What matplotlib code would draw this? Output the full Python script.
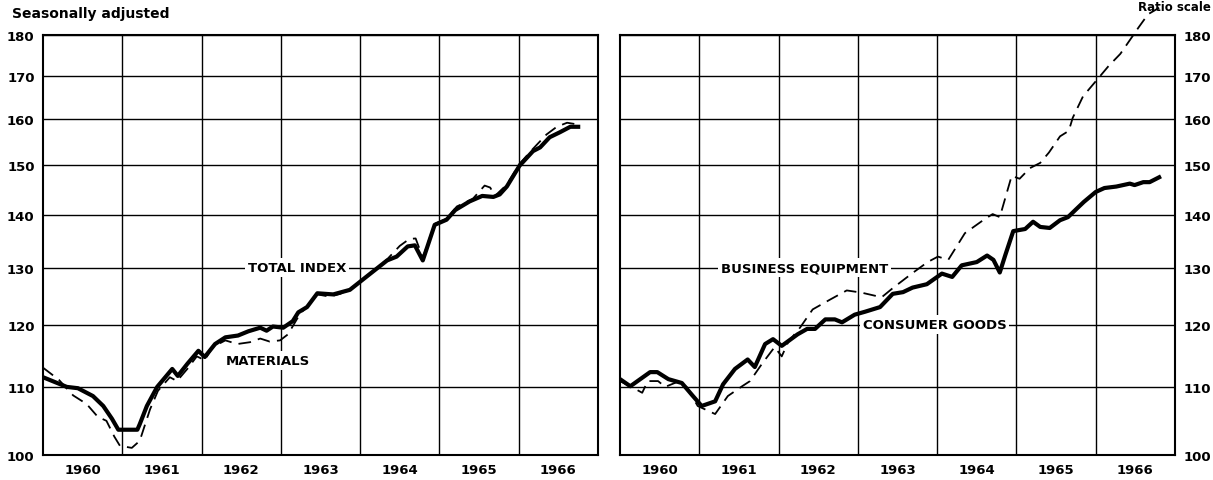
import numpy as np
import matplotlib
matplotlib.use("Agg")
import matplotlib.pyplot as plt
from matplotlib.ticker import FixedLocator, NullFormatter, FixedFormatter

# ---- data (index values, ratio scale) ----
total_t = [1960.0, 1960.3, 1960.44, 1960.63, 1960.76, 1960.87, 1960.95, 1961.19, 1961.22, 1961.31,
           1961.44, 1961.63, 1961.70, 1961.82, 1961.96, 1962.04, 1962.17, 1962.30, 1962.46, 1962.59,
           1962.74, 1962.82, 1962.90, 1963.03, 1963.15, 1963.22, 1963.33, 1963.46, 1963.66, 1963.87,
           1964.12, 1964.34, 1964.46, 1964.60, 1964.69, 1964.79, 1964.94, 1965.09, 1965.20, 1965.38,
           1965.54, 1965.68, 1965.76, 1965.85, 1966.01, 1966.18, 1966.27, 1966.39, 1966.52, 1966.65,
           1966.75]
total_v = [111.5, 110.0, 109.8, 108.6, 107.1, 105.2, 103.6, 103.6, 104.4, 107.1,
           110.0, 112.8, 111.7, 113.6, 115.7, 114.7, 116.8, 117.9, 118.2, 118.9,
           119.5, 119.0, 119.7, 119.5, 120.6, 122.1, 123.0, 125.4, 125.2, 126.0,
           128.8, 131.3, 132.0, 133.9, 134.1, 131.3, 138.0, 139.0, 140.9, 142.6,
           143.7, 143.5, 144.0, 145.6, 149.9, 153.0, 153.8, 156.0, 157.1, 158.3,
           158.3]

materials_t = [1960.0, 1960.2, 1960.38, 1960.55, 1960.69, 1960.8, 1960.9, 1960.97, 1961.12, 1961.22,
               1961.35, 1961.45, 1961.6, 1961.69, 1961.82, 1961.94, 1962.04, 1962.14, 1962.30, 1962.45,
               1962.61, 1962.74, 1962.86, 1962.99, 1963.09, 1963.24, 1963.35, 1963.46, 1963.62, 1963.75,
               1963.95, 1964.12, 1964.34, 1964.50, 1964.62, 1964.70, 1964.79, 1964.94, 1965.09, 1965.22,
               1965.42, 1965.57, 1965.64, 1965.70, 1965.85, 1966.01, 1966.18, 1966.35, 1966.48, 1966.61,
               1966.75]
materials_v = [113.0, 111.1, 108.7, 107.4, 105.5, 104.9, 102.6, 101.3, 101.0, 102.0,
               106.6, 109.4, 111.5, 110.9, 112.8, 114.8, 114.2, 116.3, 117.4, 116.8,
               117.1, 117.7, 117.2, 117.4, 118.4, 121.8, 123.4, 125.2, 124.8, 125.3,
               126.8, 128.8, 131.5, 134.0, 135.3, 135.4, 131.8, 138.2, 139.2, 141.6,
               143.1, 145.8, 145.4, 143.7, 146.0, 150.3, 153.5, 156.6, 158.3, 159.2,
               158.8]

consumer_t = [1960.0, 1960.13, 1960.38, 1960.47, 1960.61, 1960.78, 1960.92, 1961.03, 1961.2, 1961.3,
              1961.45, 1961.61, 1961.70, 1961.83, 1961.93, 1962.04, 1962.24, 1962.36, 1962.46, 1962.59,
              1962.71, 1962.80, 1962.96, 1963.09, 1963.28, 1963.44, 1963.57, 1963.69, 1963.87, 1964.06,
              1964.19, 1964.31, 1964.50, 1964.63, 1964.71, 1964.79, 1964.86, 1964.96, 1965.11, 1965.21,
              1965.30, 1965.42, 1965.55, 1965.65, 1965.75, 1965.85, 1966.0, 1966.11, 1966.26, 1966.43,
              1966.49, 1966.60, 1966.68, 1966.80]
consumer_v = [111.2, 110.1, 112.3, 112.3, 111.2, 110.6, 108.6, 107.1, 107.8, 110.4,
              112.8, 114.3, 113.1, 116.8, 117.6, 116.5, 118.4, 119.3, 119.3, 120.9,
              120.9, 120.4, 121.7, 122.2, 123.0, 125.3, 125.6, 126.4, 127.0, 128.9,
              128.3, 130.4, 131.0, 132.2, 131.4, 129.1, 132.3, 136.8, 137.2, 138.6,
              137.6, 137.4, 138.9, 139.5, 141.0, 142.5, 144.5, 145.3, 145.6, 146.2,
              145.9, 146.5, 146.5, 147.5]

business_t = [1960.0, 1960.13, 1960.28, 1960.35, 1960.48, 1960.57, 1960.73, 1960.84, 1960.98, 1961.2,
              1961.36, 1961.54, 1961.64, 1961.79, 1961.95, 1962.04, 1962.12, 1962.27, 1962.43, 1962.65,
              1962.86, 1963.05, 1963.30, 1963.44, 1963.68, 1963.88, 1964.01, 1964.14, 1964.35, 1964.58,
              1964.70, 1964.79, 1964.94, 1965.04, 1965.17, 1965.30, 1965.41, 1965.55, 1965.66, 1965.71,
              1965.84, 1966.0, 1966.16, 1966.31, 1966.43, 1966.54, 1966.66, 1966.80]
business_v = [110.9, 110.1, 109.1, 110.9, 110.9, 110.0, 110.8, 110.0, 107.1, 105.9,
              108.6, 110.1, 110.9, 113.6, 116.3, 114.8, 117.1, 119.5, 122.6, 124.3,
              125.9, 125.5, 124.7, 126.3, 128.9, 131.0, 132.0, 131.4, 136.4, 138.9,
              140.1, 139.5, 147.8, 147.2, 149.4, 150.5, 152.7, 156.2, 157.4, 160.3,
              165.2, 168.7, 172.3, 175.3, 178.7, 181.9, 185.3, 187.0]

years = [1960, 1961, 1962, 1963, 1964, 1965, 1966]
y_ticks = [100, 110, 120, 130, 140, 150, 160, 170, 180]

plt.rcParams['font.family'] = ['DejaVu Sans']
plt.rcParams['font.weight'] = 'bold'

fig = plt.figure(figsize=(12.13, 4.81), dpi=100)
ax1 = fig.add_axes([43 / 1213, 1 - 456 / 481, 555 / 1213, 420 / 481])
ax2 = fig.add_axes([620 / 1213, 1 - 456 / 481, 555 / 1213, 420 / 481])


def style_axis(ax, right=False):
    ax.set_yscale('log')
    ax.set_ylim(100, 180)
    ax.set_xlim(years[0], years[-1] + 1)
    ax.yaxis.set_major_locator(FixedLocator(y_ticks))
    ax.yaxis.set_major_formatter(FixedFormatter([str(v) for v in y_ticks]))
    ax.yaxis.set_minor_locator(FixedLocator([]))
    ax.yaxis.set_minor_formatter(NullFormatter())
    # year boundaries carry the grid, labels sit mid-year
    ax.xaxis.set_major_locator(FixedLocator(years[1:]))
    ax.xaxis.set_major_formatter(NullFormatter())
    ax.xaxis.set_minor_locator(FixedLocator([y + 0.5 for y in years]))
    ax.xaxis.set_minor_formatter(FixedFormatter([str(y) for y in years]))
    ax.tick_params(which='both', length=0)
    ax.tick_params(axis='x', which='minor', pad=6, labelsize=9.5)
    ax.tick_params(axis='y', pad=6, labelsize=9.5)
    if right:
        ax.yaxis.tick_right()
    ax.grid(True, which='major', color='black', lw=1.0)
    for s in ax.spines.values():
        s.set_linewidth(1.5)
    ax.set_axisbelow(True)


style_axis(ax1)
style_axis(ax2, right=True)

ax1.plot(total_t, total_v, color='black', lw=3.0, solid_joinstyle='round', zorder=4)
ax1.plot(materials_t, materials_v, color='black', lw=1.3, dashes=(7, 4), zorder=3)

ax2.plot(consumer_t, consumer_v, color='black', lw=3.0, solid_joinstyle='round', zorder=4)
ax2.plot(business_t, business_v, color='black', lw=1.3, dashes=(7, 4), zorder=3, clip_on=False)

box = dict(facecolor='white', edgecolor='none', pad=2)
ax1.text(1963.2, 130, 'TOTAL INDEX', fontsize=9.5, ha='center', va='center', bbox=box, zorder=2)
ax1.text(1962.84, 114.1, 'MATERIALS', fontsize=9.5, ha='center', va='center', bbox=box, zorder=2)
ax2.text(1962.33, 130, 'BUSINESS EQUIPMENT', fontsize=9.5, ha='center', va='center', bbox=box, zorder=2)
ax2.text(1963.97, 120, 'CONSUMER GOODS', fontsize=9.5, ha='center', va='center', bbox=box, zorder=2)

fig.text(12 / 1213, 1 - 18 / 481, 'Seasonally adjusted', fontsize=10, ha='left', va='baseline')
fig.text(1 - 2 / 1213, 1 - 1 / 481, 'Ratio scale', fontsize=8.5, ha='right', va='top')

fig.savefig('out.png', dpi=100)
